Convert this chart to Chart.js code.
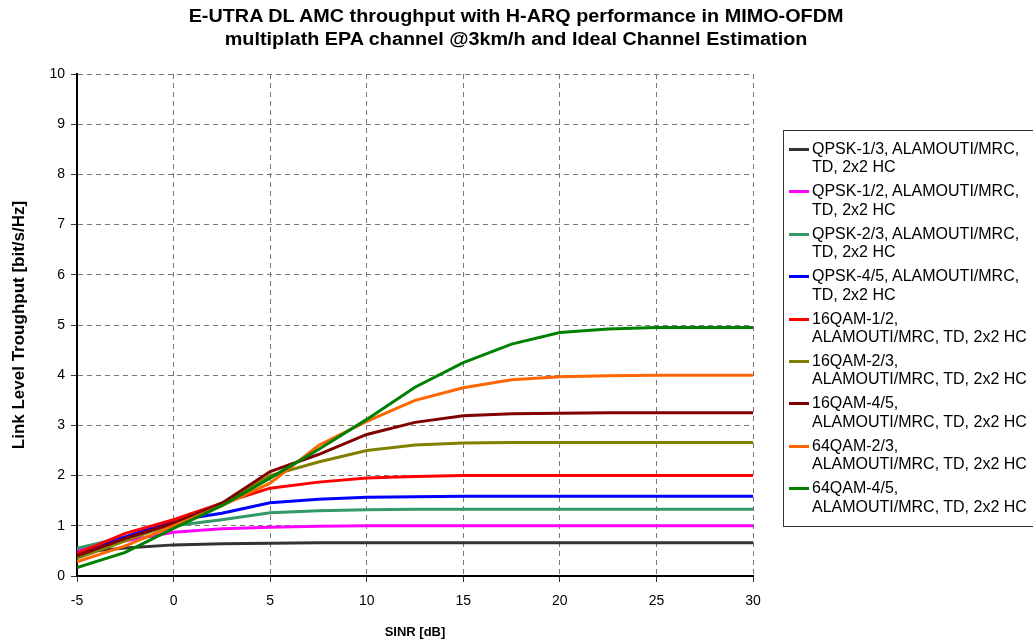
<!DOCTYPE html>
<html>
<head>
<meta charset="utf-8">
<script src="https://cdn.jsdelivr.net/npm/chart.js@4.4.1/dist/chart.umd.min.js"></script>
<style>
    body { margin: 0; background: #fff; font-family: "Liberation Sans", Arial, sans-serif; }
    #wrap { position: relative; width: 1033px; height: 643px; overflow: hidden; }
    #title { position: absolute; left: 0; top: 5px; width: 1033px; text-align: center;
             font-weight: bold; font-size: 18px; line-height: 23px; color: #000;
             transform: scaleX(1.1); transform-origin: 521px 0; }
    #legend { position: absolute; left: 783px; top: 130px; width: 270px; height: 397px;
              border: 1px solid #333; box-sizing: border-box; padding-top: 9px; }
    .item { position: relative; padding-left: 28px; font-size: 16px; line-height: 18.4px;
            height: 36.8px; margin-bottom: 5.6px; color: #000; white-space: nowrap; }
    .swatch { position: absolute; left: 5px; top: 8px; width: 20px; height: 3px; }
</style>
</head>
<body>
<div id="wrap">
    <canvas id="chart" width="1033" height="643"></canvas>
    <div id="title">E-UTRA DL AMC throughput with H-ARQ performance in MIMO-OFDM<br>multiplath EPA channel @3km/h and Ideal Channel Estimation</div>
    <div id="legend"></div>
</div>
<script>
// SINR points (dB)
const sinr = [-5, -2.5, 0, 2.5, 5, 7.5, 10, 12.5, 15, 17.5, 20, 22.5, 25, 27.5, 30];

// throughput per scheme [bit/s/Hz]
const qpsk13 = [0.47, 0.56, 0.62, 0.64, 0.65, 0.66, 0.66, 0.66, 0.66, 0.66, 0.66, 0.66, 0.66, 0.66, 0.66];
const qpsk12 = [0.52, 0.70, 0.87, 0.94, 0.97, 0.99, 1.00, 1.00, 1.00, 1.00, 1.00, 1.00, 1.00, 1.00, 1.00];
const qpsk23 = [0.55, 0.78, 1.00, 1.12, 1.26, 1.30, 1.32, 1.33, 1.33, 1.33, 1.33, 1.33, 1.33, 1.33, 1.33];
const qpsk45 = [0.45, 0.78, 1.10, 1.25, 1.46, 1.53, 1.57, 1.58, 1.59, 1.59, 1.59, 1.59, 1.59, 1.59, 1.59];
const qam16_12 = [0.45, 0.85, 1.12, 1.45, 1.75, 1.87, 1.95, 1.98, 2.00, 2.00, 2.00, 2.00, 2.00, 2.00, 2.00];
const qam16_23 = [0.35, 0.70, 1.05, 1.45, 2.00, 2.27, 2.50, 2.61, 2.65, 2.66, 2.66, 2.66, 2.66, 2.66, 2.66];
const qam16_45 = [0.40, 0.75, 1.05, 1.45, 2.08, 2.42, 2.82, 3.06, 3.19, 3.23, 3.24, 3.25, 3.25, 3.25, 3.25];
const qam64_23 = [0.28, 0.60, 1.00, 1.40, 1.85, 2.60, 3.08, 3.50, 3.75, 3.91, 3.97, 3.99, 4.00, 4.00, 4.00];
const qam64_45 = [0.17, 0.47, 0.95, 1.40, 1.95, 2.52, 3.12, 3.76, 4.25, 4.62, 4.85, 4.92, 4.95, 4.95, 4.95];

const seriesNames = [
    ['QPSK-1/3, ALAMOUTI/MRC,', 'TD, 2x2 HC'],
    ['QPSK-1/2, ALAMOUTI/MRC,', 'TD, 2x2 HC'],
    ['QPSK-2/3, ALAMOUTI/MRC,', 'TD, 2x2 HC'],
    ['QPSK-4/5, ALAMOUTI/MRC,', 'TD, 2x2 HC'],
    ['16QAM-1/2,', 'ALAMOUTI/MRC, TD, 2x2 HC'],
    ['16QAM-2/3,', 'ALAMOUTI/MRC, TD, 2x2 HC'],
    ['16QAM-4/5,', 'ALAMOUTI/MRC, TD, 2x2 HC'],
    ['64QAM-2/3,', 'ALAMOUTI/MRC, TD, 2x2 HC'],
    ['64QAM-4/5,', 'ALAMOUTI/MRC, TD, 2x2 HC']
];
const seriesValues = [qpsk13, qpsk12, qpsk23, qpsk45, qam16_12, qam16_23, qam16_45, qam64_23, qam64_45];
const seriesColors = ['#333333', '#FF00FF', '#339966', '#0000FF', '#FF0000', '#808000', '#800000', '#FF6600', '#008000'];

const xTicks = [-5, 0, 5, 10, 15, 20, 25, 30];
const yTicks = [0, 1, 2, 3, 4, 5, 6, 7, 8, 9, 10];

const datasets = seriesValues.map((vals, i) => ({
    label: seriesNames[i].join(' '),
    data: vals.map((v, j) => ({ x: sinr[j], y: v })),
    borderColor: seriesColors[i],
    backgroundColor: seriesColors[i],
    borderWidth: 3,
    pointRadius: 0,
    tension: 0,
    fill: false,
    order: seriesValues.length - i   // later series on top, like the original
}));

// legend in html
const legend = document.getElementById('legend');
seriesNames.forEach((name, i) => {
    const item = document.createElement('div');
    item.className = 'item';
    item.innerHTML = `<span class="swatch" style="background:${seriesColors[i]}"></span>${name[0]}<br>${name[1]}`;
    legend.appendChild(item);
});

const gridOpts = {
    color: '#777',
    lineWidth: 1,
    drawTicks: true,
    tickLength: 6,
    tickColor: '#333',
    tickBorderDash: [],
    tickWidth: 1
};
const borderOpts = { display: true, color: '#000', width: 2, dash: [5, 4] };
const tickFont = { family: '"Liberation Sans", Arial, sans-serif', size: 14 };
const fontFamily = '"Liberation Sans", Arial, sans-serif';

new Chart(document.getElementById('chart'), {
    type: 'line',
    data: { datasets: datasets },
    options: {
        responsive: false,
        animation: false,
        layout: { padding: { top: 74, right: 280, bottom: 0, left: 0 } },
        plugins: {
            legend: { display: false },
            tooltip: { enabled: false }
        },
        scales: {
            x: {
                type: 'linear',
                min: -5,
                max: 30,
                afterBuildTicks: (scale) => { scale.ticks = xTicks.map(v => ({ value: v })); },
                afterFit: (scale) => { scale.height = 67; },
                grid: gridOpts,
                border: borderOpts,
                ticks: { color: '#000', font: tickFont, padding: 11, maxRotation: 0 },
                title: { display: true, text: 'SINR [dB]', color: '#000', font: { family: fontFamily, size: 13, weight: 'bold' }, padding: { top: 4, bottom: 3 } }
            },
            y: {
                type: 'linear',
                min: 0,
                max: 10,
                afterBuildTicks: (scale) => { scale.ticks = yTicks.map(v => ({ value: v })); },
                afterFit: (scale) => { scale.width = 77; },
                grid: gridOpts,
                border: borderOpts,
                ticks: { color: '#000', font: tickFont, padding: 6 },
                title: { display: true, text: 'Link Level Troughput [bit/s/Hz]', color: '#000', font: { family: fontFamily, size: 17, weight: 'bold' }, padding: { top: 9, bottom: 4 } }
            }
        }
    }
});
</script>
</body>
</html>
